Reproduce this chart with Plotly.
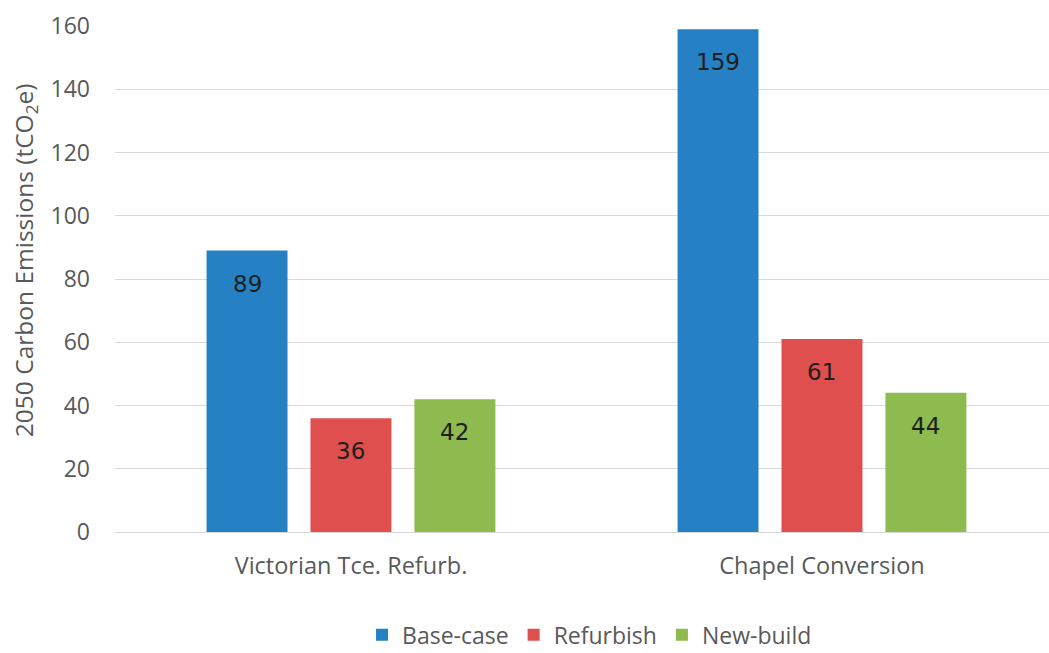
import plotly.graph_objects as go

categories = ["Victorian Tce. Refurb.", "Chapel Conversion"]
series_names = ["Base-case", "Refurbish", "New-build"]
base_case = [89, 159]
refurbish = [36, 61]
new_build = [42, 44]
y_ticks = [0, 20, 40, 60, 80, 100, 120, 140, 160]

colors = ["#2581C4", "#DE4F4E", "#8DBB4F"]
font_family = "Open Sans, DejaVu Sans, sans-serif"
label_family = "DejaVu Sans, Verdana, sans-serif"

series_values = [base_case, refurbish, new_build]

fig = go.Figure()
for i, (name, vals, col) in enumerate(zip(series_names, series_values, colors)):
    fig.add_trace(go.Bar(
        name=name, x=categories, y=vals,
        marker=dict(color=col, line=dict(width=0)),
        offsetgroup=str(i),
    ))

# value labels sit just inside the top of each bar
bargap, groupgap = 0.338, 0.221
slot = (1 - bargap) / 3
annotations = []
for i, vals in enumerate(series_values):
    for j, v in enumerate(vals):
        annotations.append(dict(
            x=j - (1 - bargap) / 2 + slot * (i + 0.5), y=v, xref="x", yref="y",
            text=str(v), showarrow=False, yanchor="middle", yshift=-33,
            font=dict(size=23, color="#1e1e1e", family=label_family),
        ))

annotations.append(dict(
    text="2050 Carbon Emissions (tCO<sub>2</sub>e)", textangle=-90,
    xref="paper", yref="paper", x=-0.097, y=0.538, xanchor="center", yanchor="middle",
    showarrow=False, font=dict(size=24.5, color="#595959"),
))

fig.update_layout(
    width=1049, height=653,
    margin=dict(l=115, r=0, t=26, b=121, autoexpand=False),
    paper_bgcolor="white", plot_bgcolor="white",
    barmode="group", bargap=bargap, bargroupgap=groupgap,
    font=dict(family=font_family, color="#595959", size=23),
    showlegend=True,
    legend=dict(orientation="h", x=0.562, xanchor="center", xref="container",
                y=0.028, yanchor="middle", yref="container",
                font=dict(size=23, color="#595959"), itemwidth=30, traceorder="normal"),
    xaxis=dict(showgrid=False, showline=True, linecolor="#D9D9D9", linewidth=1,
               ticks="", range=[-0.501, 1.482], ticklabelstandoff=13, automargin=False,
               tickfont=dict(size=23.5, color="#595959")),
    yaxis=dict(range=[0, 160], tickvals=y_ticks, showgrid=True, gridcolor="#D9D9D9",
               gridwidth=1, zeroline=False, ticks="", ticklabelstandoff=24, automargin=False,
               tickfont=dict(size=23, color="#595959")),
    annotations=annotations,
)

fig.write_html("out.html")
